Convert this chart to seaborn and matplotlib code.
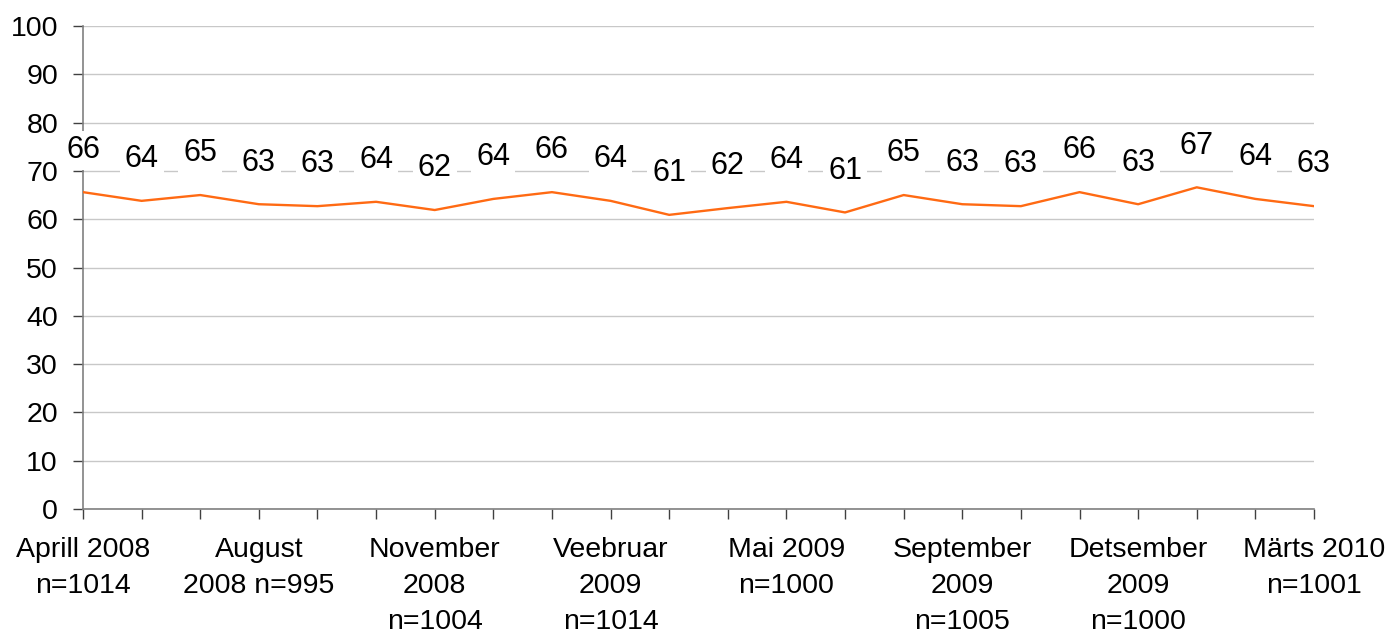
import matplotlib
matplotlib.use('Agg')
import matplotlib.pyplot as plt
import seaborn as sns
import pandas as pd

# survey waves (one point per wave)
vaartused = [65.6, 63.8, 65.0, 63.1, 62.7, 63.6, 61.9, 64.2, 65.6, 63.8, 60.9,
             62.3, 63.6, 61.4, 65.0, 63.1, 62.7, 65.6, 63.1, 66.6, 64.2, 62.7]
silt_kohad = [0, 3, 6, 9, 12, 15, 18, 21]
sildid = ['Aprill 2008\nn=1014', 'August\n2008 n=995', 'November\n2008\nn=1004',
          'Veebruar\n2009\nn=1014', 'Mai 2009\nn=1000', 'September\n2009\nn=1005',
          'Detsember\n2009\nn=1000', 'Märts 2010\nn=1001']
y_ticks = [0, 10, 20, 30, 40, 50, 60, 70, 80, 90, 100]

df = pd.DataFrame({'x': range(len(vaartused)), 'y': vaartused})

sns.set_style('white')
plt.rcParams['font.family'] = ['Liberation Sans', 'DejaVu Sans']
plt.rcParams['text.color'] = 'black'
plt.rcParams['xtick.labelcolor'] = 'black'
plt.rcParams['ytick.labelcolor'] = 'black'

fig, ax = plt.subplots(figsize=(13.95, 6.37), dpi=100)
fig.subplots_adjust(left=83/1395, right=1314/1395, top=1-26/637, bottom=1-509/637)

ax.set_axisbelow(True)
ax.grid(axis='y', color='#c8c8c8', linewidth=1)
sns.lineplot(data=df, x='x', y='y', color='#ff6a13', linewidth=1.7, ax=ax, zorder=3)

for x, v in zip(df['x'], df['y']):
    ax.annotate(f'{v:.0f}', (x, v), xytext=(0, 30), textcoords='offset points',
                ha='center', va='center', fontsize=22, color='black', zorder=4,
                bbox=dict(boxstyle='square,pad=0.16', fc='white', ec='none'))

ax.set_xlim(0, len(vaartused) - 1)
ax.set_ylim(0, 100)
ax.set_yticks(y_ticks)
ax.set_xticks(range(len(vaartused)))
tick_labels = [''] * len(vaartused)
for k, s in zip(silt_kohad, sildid):
    tick_labels[k] = s
ax.set_xticklabels(tick_labels, linespacing=1.5)
ax.set_xlabel('')
ax.set_ylabel('')
ax.tick_params(axis='both', labelsize=20.5, direction='out', length=7,
               width=1, color='#404040', left=True, bottom=True)
ax.tick_params(axis='y', pad=11)
ax.tick_params(axis='x', pad=13)

for side in ['top', 'right']:
    ax.spines[side].set_visible(False)
for side in ['left', 'bottom']:
    ax.spines[side].set_color('#808080')
    ax.spines[side].set_linewidth(1.2)

plt.savefig('out.png', dpi=100)
plt.close()
